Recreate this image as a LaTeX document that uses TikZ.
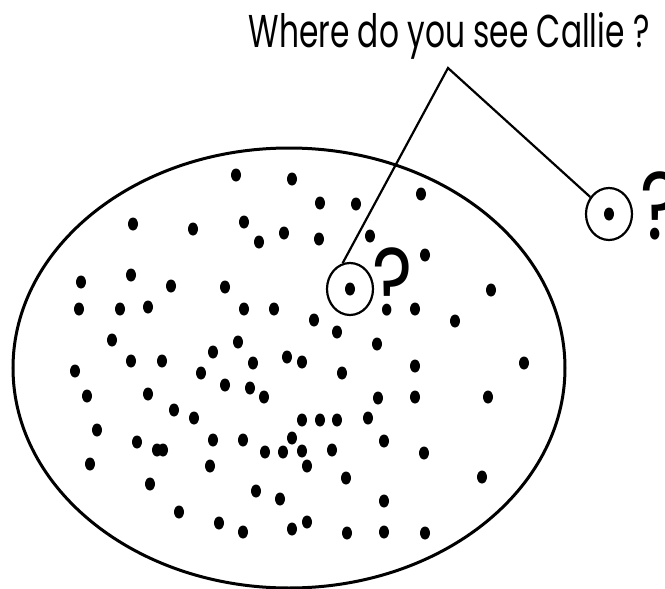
\documentclass[tikz,border=0pt]{standalone}
\usepackage{fontspec}
\setmainfont{Poppins}
\usetikzlibrary{shapes.geometric}
\tikzset{ring/.style={draw, ellipse, line width=2.2pt, minimum width=46pt, minimum height=52pt, inner sep=0pt},
  query/.style={font=\fontsize{96}{96}\selectfont, inner sep=0pt, anchor=base west}}

\begin{document}
\begin{tikzpicture}[x=1pt, y=-1pt, line width=2.2pt]
        \useasboundingbox (0,0) rectangle (665,589);
        \draw[line width=3pt] (289,368) ellipse [x radius=276, y radius=220];
        \foreach \x/\y in {236/175, 292/179, 133/224, 193/229, 244/222, 259/242, 284/233, 320/203,
          356/204, 421/194, 319/239, 370/236, 425/255, 81/282, 131/275, 171/286, 225/287, 79/309,
          120/309, 148/307, 244/309, 274/309, 491/290, 415/309, 455/321, 112/340, 314/320, 337/332,
          377/344, 131/361, 162/361, 213/352, 238/342, 253/363, 287/357, 302/362, 415/366, 524/363,
          342/373, 75/371, 201/373, 87/396, 148/394, 225/385, 250/388, 264/397, 378/398, 415/397,
          488/397, 174/410, 194/418, 302/420, 320/420, 337/420, 368/418, 97/430, 137/442, 157/450,
          163/450, 213/440, 243/440, 292/438, 265/452, 283/452, 302/451, 332/450, 384/441, 424/453,
          307/466, 90/464, 210/466, 346/478, 482/477, 150/484, 256/491, 280/499, 384/501, 179/512,
          307/522, 219/523, 243/532, 292/529, 347/533, 384/532, 425/533}
          \fill (\x,\y) ellipse [x radius=5, y radius=6.5];
        \node (title) [anchor=base, font=\fontsize{46}{46}\selectfont, inner sep=0pt] at (449,47) {\scalebox{0.68}[1]{Where do you see Callie ?}};
        \coordinate (apex) at (448,68);
        \node (callie) [ring] at (350,289) {};
        \node (guess) [ring] at (609,214) {};
        \fill (callie.center) ellipse [x radius=5, y radius=6.5];
        \fill (guess.center) ellipse [x radius=5, y radius=6.5];
        \node (callie_q) [query] at (371,315) {\scalebox{0.8}[1]{?}};
        \node (guess_q) [query] at (639,239) {\scalebox{0.8}[1]{?}};
        \draw (callie.106) -- (apex) -- (guess);
      \end{tikzpicture}
\end{document}
